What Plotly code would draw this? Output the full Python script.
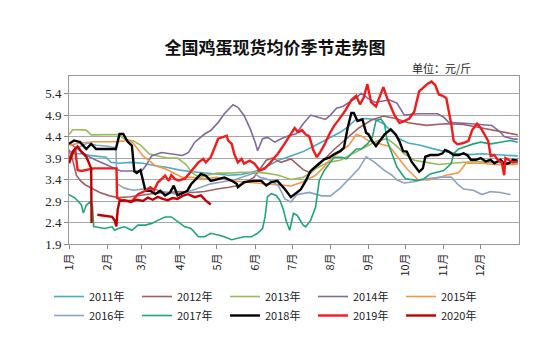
import plotly.graph_objects as go

month_days = [0, 31, 59, 90, 120, 151, 181, 212, 243, 273, 304, 334]
month_labels = ["1月", "2月", "3月", "4月", "5月", "6月", "7月", "8月", "9月", "10月", "11月", "12月"]
y_ticks = [1.9, 2.4, 2.9, 3.4, 3.9, 4.4, 4.9, 5.4]

s2011 = [(0,4.05),(5,4.0),(10,4.0),(20,3.95),(30,3.92),(34,3.8),(40,3.78),(50,3.8),(60,3.78),(70,3.72),(80,3.68),(90,3.62),(100,3.58),(110,3.55),(120,3.52),(130,3.5),(140,3.52),(150,3.58),(160,3.7),(170,3.85),(180,3.95),(190,4.05),(200,4.2),(210,4.35),(220,4.5),(226,4.62),(232,4.78),(240,4.82),(248,4.8),(255,4.7),(262,4.5),(268,4.35),(275,4.25),(285,4.2),(295,4.12),(305,4.05),(315,4.0),(325,3.98),(335,4.0),(345,3.98),(355,3.96),(364,3.95)]
s2012 = [(0,4.1),(3,3.85),(6,3.5),(9,3.38),(13,3.28),(18,3.2),(25,3.1),(33,3.02),(40,2.98),(50,3.0),(60,3.04),(70,3.08),(80,3.1),(90,3.12),(100,3.1),(110,3.12),(120,3.18),(130,3.22),(140,3.28),(150,3.45),(155,3.65),(160,3.85),(165,3.9),(172,3.8),(180,3.88),(190,3.63),(196,3.55),(205,3.8),(215,4.1),(225,4.35),(235,4.6),(245,4.78),(255,4.88),(265,4.82),(275,4.72),(290,4.66),(305,4.7),(320,4.68),(335,4.6),(345,4.55),(355,4.5),(364,4.44)]
s2013 = [(0,4.45),(3,4.56),(8,4.56),(14,4.55),(18,4.44),(25,4.44),(32,4.45),(40,4.45),(46,4.32),(52,4.3),(58,4.2),(65,4.0),(72,3.95),(80,3.9),(88,3.9),(95,3.75),(100,3.55),(106,3.45),(112,3.5),(120,3.55),(130,3.55),(140,3.57),(150,3.57),(160,3.55),(170,3.5),(180,3.4),(190,3.45),(200,3.65),(210,3.8),(220,3.85),(230,4.0),(240,4.15),(250,4.3),(258,4.35),(265,4.2),(272,4.0),(280,3.85),(290,3.8),(300,3.75),(310,3.78),(320,3.8),(330,3.82),(340,3.8),(350,3.8),(364,3.78)]
s2014 = [(0,4.25),(8,4.1),(15,3.95),(22,3.85),(30,3.75),(38,3.65),(42,3.6),(50,3.6),(59,3.6),(63,3.75),(67,3.95),(75,4.03),(86,3.99),(92,3.96),(97,4.03),(102,4.27),(110,4.46),(115,4.54),(121,4.73),(126,4.93),(133,5.14),(137,5.08),(142,4.89),(147,4.58),(151,4.27),(153,4.07),(157,4.35),(161,4.38),(167,4.27),(172,4.35),(178,4.42),(184,4.46),(190,4.7),(196,4.9),(202,4.85),(208,4.8),(212,4.9),(217,5.06),(222,5.1),(228,5.21),(233,5.3),(237,5.41),(242,5.3),(248,5.2),(254,5.22),(260,5.25),(266,5.18),(272,4.9),(283,4.93),(299,4.93),(304,4.85),(308,4.73),(326,4.7),(336,4.68),(343,4.66),(350,4.5),(353,4.4),(361,4.34),(364,4.34)]
s2015 = [(0,4.2),(10,4.25),(20,4.28),(30,4.28),(38,4.28),(45,4.3),(48,4.33),(52,4.25),(56,4.1),(60,3.95),(65,3.84),(70,3.72),(78,3.65),(86,3.53),(92,3.45),(100,3.45),(110,3.42),(120,3.45),(130,3.38),(140,3.35),(150,3.32),(160,3.3),(170,3.28),(180,3.25),(190,3.35),(200,3.5),(207,3.7),(213,3.9),(220,4.05),(227,4.2),(233,4.45),(238,4.4),(243,4.3),(250,4.25),(260,4.17),(266,3.95),(274,3.65),(283,3.4),(292,3.39),(300,3.45),(306,3.5),(316,3.56),(322,3.78),(335,3.78),(345,3.75),(355,3.75),(364,3.75)]
s2016 = [(0,4.0),(8,4.15),(15,4.25),(22,4.2),(30,4.18),(38,4.14),(39,3.3),(45,3.2),(52,3.15),(60,3.18),(66,3.2),(72,3.15),(80,3.1),(88,3.05),(95,3.1),(105,3.2),(115,3.3),(125,3.35),(135,3.4),(145,3.5),(150,3.55),(155,3.45),(160,3.42),(165,3.35),(170,3.25),(175,2.95),(180,2.88),(185,3.05),(195,3.1),(205,3.02),(212,3.02),(220,3.2),(228,3.45),(235,3.65),(241,3.93),(248,3.8),(255,3.63),(262,3.5),(266,3.39),(272,3.32),(280,3.35),(290,3.42),(300,3.45),(310,3.46),(315,3.3),(320,3.18),(328,3.15),(335,3.05),(342,3.12),(350,3.1),(358,3.05)]
s2017 = [(0,3.05),(5,2.97),(10,2.81),(11.6,2.62),(14,2.8),(17,2.88),(19,2.8),(20,2.3),(21,2.3),(29,2.26),(35,2.3),(37,2.22),(40,2.26),(45,2.3),(51,2.22),(56,2.34),(62,2.34),(67,2.38),(72,2.45),(78,2.53),(83,2.53),(89,2.4),(94,2.3),(99,2.26),(105,2.07),(110,2.07),(115,2.15),(121,2.11),(126,2.07),(132,2.0),(137,2.03),(142,2.07),(148,2.07),(153,2.15),(157,2.26),(159,2.53),(161,3.0),(164,3.07),(168,3.03),(171,2.92),(174,2.69),(176,2.45),(179,2.22),(182,2.61),(185,2.57),(190,2.34),(192,2.3),(196,2.45),(200,2.76),(203,3.38),(207,3.61),(211,3.77),(215,3.92),(221,3.92),(225,3.88),(229,4.0),(233,4.11),(237,4.11),(242,4.23),(246,4.38),(249,4.77),(253,4.81),(256,4.69),(258,4.31),(261,4.08),(264,3.84),(266,3.69),(271,3.49),(273,3.42),(282,3.38),(288,3.42),(293,3.53),(299,3.57),(304,3.61),(310,3.77),(312,4.0),(316,4.11),(323,4.19),(328,4.23),(334,4.27),(342,4.23),(350,4.27),(358,4.31),(364,4.27)]
s2018 = [(0,4.23),(4,4.31),(9,4.27),(14,4.11),(18,4.23),(22,4.11),(27,4.11),(33,4.11),(38,4.11),(41,4.46),(44,4.46),(47.6,4.28),(51,4.19),(53,3.59),(55,3.55),(58,3.62),(62,3.14),(66,3.14),(70,3.06),(74,3.14),(78,3.03),(82,3.1),(85,3.26),(88,3.03),(92,3.08),(96,3.14),(99,3.29),(103,3.4),(107,3.53),(111,3.49),(115,3.37),(121,3.41),(126,3.45),(132,3.37),(136,3.3),(137,3.22),(142,3.34),(150,3.37),(156,3.37),(160,3.26),(164,3.34),(169,3.37),(175,3.18),(180,2.99),(188,3.17),(192,3.37),(196,3.6),(202,3.75),(207,3.87),(211,3.91),(215,3.99),(220,4.06),(223,4.14),(226,4.6),(229,4.95),(231,4.95),(234,4.76),(238,4.8),(241,4.49),(243,4.45),(246,4.29),(249,4.18),(252,4.29),(256,4.45),(261,4.57),(265,4.45),(268,4.29),(271,4.06),(274,4.05),(278,3.81),(284,3.58),(287,3.66),(289,3.93),(293,3.97),(299,3.97),(303,4.01),(305,4.09),(308,4.05),(312,3.97),(316,3.97),(320,4.01),(323,3.97),(326,3.86),(330,3.86),(334,3.9),(338,3.82),(342,3.86),(345,3.78),(350,3.86),(353,3.76),(357,3.78),(360,3.86),(364,3.84)]
s2019 = [(0,3.88),(3,4.05),(5,4.1),(7,3.62),(10,3.6),(14,3.62),(20,3.66),(30,3.66),(38.5,3.66),(39,2.97),(44,2.9),(51,2.9),(56,3.06),(62,3.14),(66,3.22),(69,3.15),(72,3.33),(75,3.41),(78,3.49),(81,3.37),(83,3.5),(86,3.41),(89,3.38),(94,3.42),(99,3.6),(105,3.8),(109,3.88),(111,3.8),(115,3.92),(121,4.35),(128,4.42),(129,4.31),(132,4.23),(134,4.0),(137,3.8),(140,3.88),(142,3.77),(146.5,3.84),(150.5,3.77),(154.6,3.61),(158.6,3.65),(162.7,3.77),(166.8,3.92),(169.4,4.0),(174.8,4.23),(179,4.42),(183,4.6),(186,4.5),(189,4.55),(192,4.45),(195,4.4),(198,4.1),(201,3.92),(204,4.05),(207,4.2),(211,4.45),(215,4.65),(219,4.8),(224,5.0),(229,5.25),(233,5.35),(236,5.15),(239,5.3),(242,5.62),(245,5.2),(249,5.1),(252,5.35),(255,5.55),(258,5.3),(261,5.1),(264,4.9),(268,4.72),(271,4.75),(276,4.82),(280,4.98),(284,5.45),(288,5.55),(291,5.63),(294,5.68),(297,5.6),(300,5.38),(303,5.35),(306,5.3),(308,5.0),(310,4.7),(312,4.3),(315,4.22),(320,4.25),(324,4.3),(327,4.55),(331,4.7),(334,4.6),(337,4.45),(340,4.3),(342,3.95),(345,3.97),(348,3.85),(351,3.8),(353,3.5),(354,3.9),(357,3.85),(360,3.8),(364,3.82)]
s2020 = [(0,3.78),(4,4.09),(7,4.17),(10,4.05),(14,3.93),(18,3.66),(18.3,2.39),(21,None),(23,2.58),(30,2.55),(35,2.53),(37,2.45),(38.4,2.31),(39.5,2.7),(41,2.9),(45,2.92),(50,2.88),(55,2.93),(60,2.9),(64,2.98),(68,2.93),(72,3.0),(76,2.95),(80,2.92),(84,2.97),(88,2.95),(92,3.02),(96.5,3.06),(102,2.99),(107,3.03),(111,2.91),(115,2.82)]

series = [
    ("2011年", s2011, "#4BACC6", 1.6),
    ("2012年", s2012, "#A65D62", 1.6),
    ("2013年", s2013, "#9BBB59", 1.6),
    ("2014年", s2014, "#7F6A9E", 1.6),
    ("2015年", s2015, "#F79646", 1.6),
    ("2016年", s2016, "#8AA4C4", 1.6),
    ("2017年", s2017, "#1FA676", 1.6),
    ("2018年", s2018, "#000000", 2.4),
    ("2019年", s2019, "#F21A1A", 2.4),
    ("2020年", s2020, "#C00000", 2.4),
]

font_cjk = "Noto Sans CJK SC, sans-serif"
fig = go.Figure()
for name, pts, color, w in series:
    xs = [p[0] for p in pts]
    ys = [p[1] for p in pts]
    fig.add_trace(go.Scatter(x=xs, y=ys, mode="lines", name=name,
                             line=dict(color=color, width=w),
                             connectgaps=False, hoverinfo="skip"))

fig.update_layout(
    width=550, height=356,
    paper_bgcolor="white", plot_bgcolor="white",
    margin=dict(l=69, r=31, t=76, b=112),
    font=dict(family=font_cjk, size=11, color="#222"),
    title=dict(text="<b>全国鸡蛋现货均价季节走势图</b>", x=0.5, xref="container",
               xanchor="center", y=1 - 48/356, yref="container", yanchor="middle",
               font=dict(size=17, color="#111", family=font_cjk)),
    showlegend=True,
    legend=dict(orientation="h", xref="paper", yref="paper",
                x=-20/450, xanchor="left", y=-38/168, yanchor="top",
                entrywidth=43, entrywidthmode="pixels",
                font=dict(size=11, color="#222", family=font_cjk),
                itemwidth=30, tracegroupgap=0, bgcolor="rgba(0,0,0,0)"),
    annotations=[dict(text="单位：元/斤", xref="paper", yref="paper",
                      x=(473-69)/450, y=1 - 2/168, xanchor="right", yanchor="bottom",
                      showarrow=False, font=dict(size=11, color="#222", family=font_cjk))],
)
fig.update_xaxes(range=[0, 365], tickvals=month_days, ticktext=month_labels,
                 tickangle=-90, ticks="outside", ticklen=4, tickcolor="#888",
                 showline=True, linecolor="#999", linewidth=1, mirror=True,
                 showgrid=False, zeroline=False,
                 tickfont=dict(size=11, color="#222", family=font_cjk))
fig.update_yaxes(range=[1.9, 5.81], tickvals=y_ticks, ticktext=[f"{v:.1f}" for v in y_ticks],
                 ticks="outside", ticklen=4, tickcolor="#888",
                 showline=True, linecolor="#999", linewidth=1, mirror=True,
                 showgrid=True, gridcolor="#A8A8A8", gridwidth=1, zeroline=False,
                 tickfont=dict(size=13, color="#222", family="Liberation Serif, serif"))

fig.write_html("out.html", config={"displayModeBar": False},
               post_script="document.body.style.margin='0';")
